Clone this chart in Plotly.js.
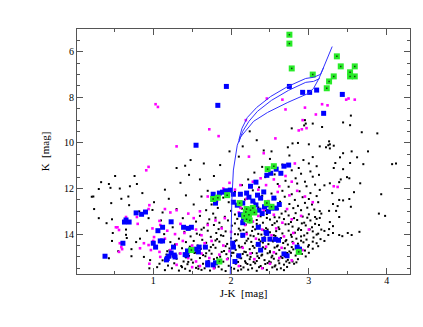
<!DOCTYPE html>
<html>
<head>
<meta charset="utf-8">
<script src="https://cdn.plot.ly/plotly-3.0.1.min.js"></script>
<style>
    html, body { margin: 0; padding: 0; background: white; }
    #chart-cmd { width: 423px; height: 327px; }
</style>
</head>
<body>
<div id="chart-cmd"></div>
<script>
/**
 * Colour-magnitude diagram, K against J-K
 */

// Field stars (small black dots) ----
let blackJK = [
    // sparse left part
    0.76, 0.33, 0.43, 0.45, 0.79, 0.70, 0.57, 0.30, 0.23, 0.68, 0.59, 0.46, 0.69, 0.24, 0.82, 0.30, 0.47, 0.40, 0.94, 0.65,
    0.48, 0.65, 0.66, 0.47, 0.83, 0.78, 0.72, 0.72, 0.43, 0.88, 0.96, 0.95, 1.05, 1.03, 1.08, 0.99, 1.01, 1.30, 1.41, 1.48,
    1.65, 1.86, 0.21, 0.51, 0.86, 0.55, 0.92, 1.12, 1.20, 1.25,
    // dense rows, bottom upward
    1.15, 1.24, 1.33, 1.41, 1.47, 1.55, 1.62, 1.66, 1.73, 1.79, 1.88, 1.93, 2.04, 2.09, 2.16, 2.22, 2.27, 2.33, 2.41, 2.46, 2.53, 2.59, 2.64, 2.72,
    1.08, 1.19, 1.27, 1.36, 1.44, 1.51, 1.58, 1.69, 1.76, 1.83, 1.97, 2.06, 2.12, 2.19, 2.25, 2.31, 2.38, 2.44, 2.51, 2.57, 2.62, 2.68, 2.75, 2.81,
    1.12, 1.30, 1.39, 1.49, 1.60, 1.71, 1.78, 1.90, 1.96, 2.04, 2.13, 2.18, 2.24, 2.29, 2.36, 2.43, 2.49, 2.55, 2.61, 2.66, 2.73, 2.79, 2.86,
    1.17, 1.25, 1.34, 1.46, 1.53, 1.64, 1.75, 1.86, 1.94, 2.01, 2.08, 2.15, 2.21, 2.27, 2.34, 2.40, 2.47, 2.53, 2.58, 2.64, 2.70, 2.77, 2.83, 2.91,
    1.21, 1.37, 1.50, 1.61, 1.72, 1.80, 1.91, 1.98, 2.06, 2.11, 2.17, 2.24, 2.30, 2.37, 2.44, 2.50, 2.56, 2.62, 2.69, 2.75, 2.80, 2.88, 2.95, 3.05,
    1.28, 1.42, 1.57, 1.68, 1.77, 1.85, 1.95, 2.03, 2.10, 2.18, 2.26, 2.33, 2.41, 2.48, 2.54, 2.60, 2.67, 2.73, 2.79, 2.86, 2.93, 3.00, 3.10,
    1.33, 1.48, 1.63, 1.74, 1.82, 1.90, 2.00, 2.07, 2.14, 2.22, 2.29, 2.36, 2.43, 2.50, 2.57, 2.64, 2.71, 2.78, 2.84, 2.90, 2.97, 3.06, 3.15,
    1.40, 1.56, 1.70, 1.81, 1.93, 2.05, 2.12, 2.20, 2.27, 2.35, 2.42, 2.50, 2.58, 2.66, 2.74, 2.82, 2.90, 2.98, 3.05, 3.12, 3.20,
    1.50, 1.65, 1.78, 1.88, 2.01, 2.10, 2.19, 2.28, 2.37, 2.45, 2.53, 2.61, 2.70, 2.79, 2.87, 2.96, 3.04, 3.13,
    1.55, 1.72, 1.85, 1.96, 2.08, 2.24, 2.33, 2.41, 2.50, 2.59, 2.68, 2.77, 2.85, 2.94, 3.02, 3.10,
    1.60, 1.77, 1.92, 2.05, 2.27, 2.38, 2.46, 2.56, 2.65, 2.74, 2.83, 2.92, 3.00, 3.08, 3.16,
    1.68, 1.83, 2.00, 2.14, 2.35, 2.45, 2.60, 2.70, 2.80, 2.90, 2.98, 3.07, 3.14,
    1.75, 1.97, 2.12, 2.30, 2.48, 2.63, 2.75, 2.86, 2.95, 3.04, 3.12,
    1.90, 2.18, 2.40, 2.57, 2.69, 2.82, 2.92, 3.00, 3.10,
    2.05, 2.28, 2.52, 2.66, 2.78, 2.88, 3.02, 3.14,
    2.14, 2.36, 2.60, 2.74, 2.85, 2.97, 3.08,
    2.22, 2.44, 2.70, 2.83, 2.95, 3.05,
    2.30, 2.56, 2.78, 2.90, 3.02, 3.13,
    2.40, 2.66, 2.87, 3.00, 3.10,
    2.10, 2.50, 2.75, 2.93, 3.05,
    // in-between rows of the dense part
    1.37, 1.58, 1.84, 2.00, 2.13, 2.36, 2.56, 2.68,
    1.45, 1.64, 1.86, 2.09, 2.21, 2.33, 2.47, 2.71, 2.84,
    1.42, 1.67, 1.82, 2.00, 2.11, 2.25, 2.39, 2.52, 2.69, 2.96,
    1.55, 1.68, 1.88, 2.03, 2.19, 2.33, 2.50, 2.72, 2.86, 3.00,
    1.47, 1.74, 1.93, 2.14, 2.28, 2.41, 2.59, 2.78, 2.99, 3.12,
    1.52, 1.80, 2.05, 2.20, 2.38, 2.52, 2.70, 2.90, 3.05, 3.20,
    1.60, 1.87, 2.09, 2.25, 2.39, 2.55, 2.77, 2.94, 3.10,
    1.62, 1.84, 2.16, 2.31, 2.47, 2.62, 2.86, 3.01, 3.16,
    1.70, 2.05, 2.33, 2.56, 2.74, 2.91, 3.08,
    1.80, 2.46, 2.62, 2.81, 2.98, 3.14,
    // upper part
    2.24, 2.33, 2.78, 2.94, 2.96, 3.05, 3.17, 3.54, 3.44, 3.68, 3.88, 1.98, 2.15, 2.42, 2.52, 2.73, 2.79, 2.86, 3.00, 3.14,
    3.22, 3.26, 3.27, 3.44, 3.55, 3.62, 3.76, 2.95, 3.53,
    // right part
    3.25, 3.32, 3.27, 3.40, 3.70, 3.53, 3.34, 3.32, 3.44, 3.49, 3.52, 3.41, 3.39, 3.27, 3.20, 3.66, 3.58, 3.30, 3.39, 3.44,
    3.52, 3.31, 3.54, 3.37, 3.26, 3.35, 3.39, 3.31, 3.27, 3.26, 3.31, 3.25, 3.39, 3.43, 3.50, 3.55, 3.65, 3.90, 3.98, 3.93,
    4.07, 4.12,
    // middle left
    1.15, 1.35, 1.42, 1.60, 1.70, 1.52, 1.30, 1.38, 1.10, 1.62, 1.46, 1.78, 1.14, 1.22, 1.18
]
let blackK = [
    11.45, 11.72, 11.80, 11.97, 11.80, 11.90, 12.00, 12.02, 12.35, 12.35, 12.45, 12.64, 12.73, 12.90, 13.00, 13.30, 13.35, 13.52, 13.30, 13.80,
    13.95, 14.03, 14.17, 14.30, 14.20, 14.35, 14.66, 14.97, 15.06, 15.00, 15.14, 15.50, 15.45, 14.57, 14.26, 12.94, 12.60, 11.10, 11.00, 10.75,
    10.90, 10.97, 12.36, 11.45, 12.20, 14.75, 13.85, 13.05, 12.45, 13.70,
    15.58, 15.50, 15.60, 15.52, 15.61, 15.48, 15.57, 15.50, 15.60, 15.47, 15.55, 15.62, 15.52, 15.60, 15.46, 15.56, 15.50, 15.61, 15.49, 15.57, 15.46, 15.55, 15.50, 15.44,
    15.30, 15.38, 15.28, 15.40, 15.32, 15.25, 15.41, 15.29, 15.36, 15.27, 15.39, 15.30, 15.40, 15.26, 15.35, 15.28, 15.40, 15.31, 15.24, 15.37, 15.28, 15.34, 15.26, 15.30,
    15.15, 15.08, 15.20, 15.12, 15.05, 15.18, 15.10, 15.21, 15.07, 15.15, 15.06, 15.19, 15.10, 15.22, 15.05, 15.14, 15.20, 15.08, 15.16, 15.05, 15.13, 15.20, 15.10,
    14.90, 14.98, 14.85, 14.95, 14.83, 14.92, 14.86, 14.99, 14.88, 14.82, 14.96, 14.87, 14.93, 14.83, 14.97, 14.90, 14.84, 14.95, 14.86, 14.99, 14.88, 14.82, 14.94, 14.87,
    14.70, 14.62, 14.76, 14.65, 14.72, 14.60, 14.74, 14.63, 14.69, 14.58, 14.77, 14.66, 14.60, 14.73, 14.64, 14.75, 14.59, 14.70, 14.62, 14.76, 14.67, 14.60, 14.72, 14.64,
    14.45, 14.35, 14.50, 14.38, 14.47, 14.33, 14.43, 14.36, 14.51, 14.40, 14.34, 14.48, 14.37, 14.44, 14.32, 14.50, 14.39, 14.46, 14.34, 14.42, 14.36, 14.48, 14.40,
    14.20, 14.10, 14.25, 14.12, 14.22, 14.08, 14.18, 14.27, 14.11, 14.20, 14.09, 14.24, 14.14, 14.22, 14.08, 14.17, 14.26, 14.12, 14.20, 14.10, 14.24, 14.15, 14.22,
    13.90, 13.98, 13.85, 13.95, 13.88, 14.00, 13.84, 13.93, 13.86, 13.99, 13.83, 13.92, 13.87, 13.97, 13.85, 13.94, 13.82, 13.96, 13.88, 13.98, 13.86,
    13.65, 13.72, 13.60, 13.70, 13.63, 13.76, 13.58, 13.68, 13.62, 13.74, 13.60, 13.70, 13.57, 13.67, 13.75, 13.62, 13.70, 13.60,
    13.45, 13.35, 13.50, 13.40, 13.33, 13.48, 13.38, 13.50, 13.36, 13.44, 13.34, 13.47, 13.38, 13.50, 13.40, 13.33,
    13.20, 13.10, 13.24, 13.14, 13.08, 13.22, 13.12, 13.26, 13.10, 13.18, 13.08, 13.23, 13.13, 13.25, 13.10,
    12.95, 12.85, 12.98, 12.88, 12.83, 12.97, 12.90, 13.00, 12.86, 12.95, 12.84, 12.92, 12.99,
    12.70, 12.60, 12.75, 12.62, 12.72, 12.58, 12.68, 12.76, 12.63, 12.70, 12.60,
    12.40, 12.48, 12.32, 12.45, 12.36, 12.50, 12.38, 12.46, 12.33,
    12.15, 12.08, 12.22, 12.10, 12.25, 12.12, 12.20, 12.06,
    11.85, 11.95, 11.80, 11.92, 11.78, 11.90, 11.83,
    11.60, 11.50, 11.66, 11.55, 11.70, 11.48,
    11.30, 11.38, 11.20, 11.35, 11.25, 11.40,
    11.05, 10.95, 11.10, 10.90, 11.02,
    10.60, 10.70, 10.55, 10.75, 10.62,
    15.45, 15.52, 15.43, 15.47, 15.55, 15.45, 15.42, 15.58,
    15.22, 15.30, 15.17, 15.22, 15.31, 15.18, 15.27, 15.20, 15.24,
    15.02, 14.97, 15.04, 14.95, 15.03, 15.00, 14.94, 15.02, 14.97, 14.98,
    14.80, 14.84, 14.78, 14.82, 14.79, 14.84, 14.80, 14.83, 14.77, 14.82,
    14.55, 14.57, 14.53, 14.56, 14.52, 14.58, 14.54, 14.57, 14.55, 14.53,
    14.30, 14.28, 14.31, 14.29, 14.32, 14.27, 14.31, 14.29, 14.33, 14.30,
    14.03, 14.05, 14.01, 14.06, 14.02, 14.05, 14.03, 14.06, 14.02,
    13.80, 13.78, 13.81, 13.79, 13.80, 13.78, 13.81, 13.79, 13.80,
    13.54, 13.53, 13.55, 13.52, 13.56, 13.53, 13.55,
    13.28, 13.29, 13.27, 13.30, 13.28, 13.29,
    9.49, 9.88, 9.36, 9.23, 9.15, 9.15, 9.30, 8.80, 9.10, 9.53, 9.58, 10.37, 10.15, 10.33, 10.37, 10.19, 10.02, 10.00, 10.06, 10.15,
    10.19, 9.93, 10.06, 10.45, 10.37, 10.63, 10.37, 9.00, 9.22,
    10.10, 10.12, 10.24, 10.63, 10.93, 10.88, 10.88, 11.10, 11.15, 11.50, 11.55, 11.60, 11.72, 11.77, 11.86, 11.77, 12.16, 12.20, 12.50, 12.52,
    12.46, 12.68, 12.80, 12.77, 12.98, 12.98, 13.25, 13.65, 13.47, 13.78, 13.95, 14.04, 14.04, 14.09, 13.95, 14.04, 13.90, 13.10, 13.20, 12.25,
    10.93, 10.90,
    12.05, 11.75, 12.30, 11.60, 12.10, 12.70, 12.90, 13.30, 13.40, 12.35, 11.40, 11.45, 14.00, 14.35, 14.75
]

// Magenta points ----
let magentaJK = [
    1.03, 1.06, 1.30, 1.72, 1.84, 2.46, 2.66, 2.70, 2.95, 3.09, 3.17, 3.24, 3.48, 3.51, 3.59, 2.92, 2.91, 2.87, 2.97, 2.57,
    2.42, 2.23, 2.19, 2.82, 3.32, 3.37,
    0.95, 0.94, 0.77, 0.79, 0.80, 0.65, 0.52, 0.56, 1.08, 1.09, 0.99, 1.01, 1.00, 0.57, 0.59, 0.60, 0.56, 0.83, 0.88, 0.94,
    0.97, 1.08, 1.09, 0.95, 0.94, 0.91, 0.54,
    1.15, 1.22, 1.30, 1.45, 1.52, 1.60, 1.35, 1.18, 1.28, 1.40, 1.55, 1.62, 1.70, 1.80, 1.88, 1.15, 1.30, 1.38, 1.50, 1.66,
    1.75, 1.90, 1.22, 1.35, 1.45, 1.55, 1.62, 1.72, 1.85, 1.95, 1.30, 1.50, 1.60, 1.78, 1.98, 1.92, 2.00, 1.82, 1.90, 1.98,
    1.70,
    2.05, 2.12, 2.20, 2.28, 2.38, 2.45, 2.55, 2.62, 2.70, 2.78, 2.35, 2.60, 2.75, 2.85, 2.10, 2.18, 2.28, 2.35, 2.42, 2.55,
    2.62, 2.72, 2.66, 2.78, 2.90, 2.20, 2.32, 2.40, 2.52, 2.58, 2.68, 2.80, 2.15, 2.25, 2.45, 2.55, 2.65, 2.80, 2.92, 2.30,
    2.50, 2.62, 2.78, 2.10, 2.40, 3.00, 3.05, 2.95, 2.12, 2.48
]
let magentaK = [
    8.30, 8.42, 10.15, 9.40, 9.70, 8.05, 8.10, 8.53, 8.45, 8.75, 8.30, 8.35, 8.10, 8.05, 8.10, 9.00, 9.40, 9.45, 9.35, 9.80,
    10.45, 10.60, 9.00, 10.90, 11.90, 11.93,
    12.73, 12.90, 13.07, 13.25, 13.55, 13.25, 13.70, 13.82, 13.42, 13.60, 13.75, 14.13, 14.30, 14.40, 14.57, 14.66, 14.78, 14.62, 14.40, 14.48,
    14.70, 14.78, 15.00, 15.30, 11.05, 11.20, 13.70,
    12.90, 13.05, 12.95, 13.10, 13.30, 13.00, 13.55, 13.85, 14.00, 13.95, 13.80, 14.05, 13.60, 13.40, 13.75, 14.20, 14.45, 14.30, 14.50, 14.40,
    14.30, 14.50, 14.70, 14.85, 15.05, 15.20, 14.85, 15.05, 14.90, 15.10, 15.35, 15.45, 15.40, 15.50, 14.75, 13.30, 13.90, 12.55, 12.00, 11.75,
    12.35,
    12.05, 11.85, 12.45, 11.70, 11.55, 11.85, 11.60, 11.90, 11.45, 11.70, 12.05, 12.15, 12.30, 12.10, 13.05, 13.60, 13.45, 13.20, 12.95, 13.15,
    12.70, 12.90, 13.50, 13.35, 13.20, 14.00, 14.20, 13.80, 14.05, 13.75, 14.10, 13.95, 14.60, 14.85, 14.55, 14.80, 14.60, 14.40, 14.70, 15.10,
    15.30, 15.05, 15.15, 15.40, 15.50, 13.80, 12.60, 12.35, 12.85, 12.55
]

// Blue squares ----
let blueJK = [
    1.94, 1.83, 1.55, 2.75, 2.92, 3.01, 3.10, 3.43, 3.19,
    0.65, 0.63, 0.69, 0.78, 0.85, 0.90, 0.38, 0.61, 1.06, 1.12, 1.23, 1.00, 1.03, 1.09, 1.18, 1.20, 1.23, 1.28, 1.17, 1.27,
    1.26, 1.12,
    1.39, 1.45, 1.49, 1.44, 1.48, 1.58, 1.43, 1.41, 1.55, 1.59, 1.67, 1.70, 1.77, 1.80, 1.70,
    1.77, 1.85, 1.89, 1.93, 1.99, 2.03, 1.80, 2.12, 2.03, 2.15, 2.08, 1.77,
    2.15, 2.02, 2.03, 2.16, 2.25, 2.32, 2.64, 2.58, 2.68, 2.74, 2.46, 2.51, 2.34, 2.38, 2.55, 2.43, 2.47, 2.52, 2.58, 2.23,
    2.32, 2.20, 2.35, 2.45, 2.46, 2.42, 2.35, 2.38, 2.57, 2.61, 2.68, 2.72, 2.85, 2.88, 2.15, 2.28, 2.36, 2.40, 2.28, 2.12,
    2.48, 2.62, 2.20, 2.42, 2.50, 2.05, 2.10
]
let blueK = [
    7.52, 8.35, 10.10, 7.52, 7.78, 7.78, 7.68, 7.87, 8.70,
    13.38, 13.47, 13.47, 13.07, 13.13, 13.03, 14.97, 14.40, 13.85, 13.70, 13.46, 14.40, 14.57, 14.30, 15.07, 14.97, 14.83, 15.00, 15.13, 14.92,
    14.57, 14.30,
    13.70, 13.75, 13.70, 14.74, 14.70, 14.78, 14.92, 14.90, 14.66, 14.57, 14.57, 15.35, 15.35, 15.26, 15.26,
    12.25, 12.20, 12.16, 12.10, 12.07, 12.25, 12.64, 12.25, 12.60, 12.64, 12.73, 12.42,
    13.50, 14.40, 14.57, 13.30, 11.90, 11.72, 11.33, 11.15, 11.02, 10.97, 11.42, 11.33, 12.29, 12.42, 12.42, 12.80, 12.72, 12.86, 12.86, 12.38,
    12.72, 13.30, 13.70, 13.93, 13.97, 14.23, 14.45, 14.70, 14.23, 14.27, 14.87, 14.95, 14.57, 14.66, 14.05, 12.55, 12.95, 13.10, 13.05, 13.15,
    13.00, 12.70, 12.20, 12.15, 14.22, 15.20, 14.95
]

// Green squares ----
let greenJK = [
    2.75, 2.75, 2.78, 3.05, 3.36, 3.41, 3.59, 3.53, 3.53, 3.59, 3.32, 3.26, 3.23,
    1.77, 1.83, 1.95, 2.11, 2.47, 2.55, 2.19, 2.17, 2.20, 2.23, 2.25, 2.28, 2.20, 2.24, 2.30, 2.52, 2.46, 2.87, 1.49, 1.85
]
let greenK = [
    5.25, 5.64, 6.73, 7.00, 6.20, 6.64, 6.64, 6.90, 7.08, 7.08, 7.08, 7.30, 7.60,
    12.46, 12.40, 12.29, 12.64, 11.15, 11.02, 13.03, 13.20, 13.35, 13.15, 12.95, 12.85, 12.90, 13.40, 13.05, 12.80, 12.64, 14.78, 14.70, 15.20
]

// Isochrone tracks ----
let track1JK = [1.99, 2.00, 2.01, 2.03, 2.06, 2.08, 2.12, 2.19, 2.29, 2.47, 2.73, 2.99, 3.06, 3.13, 3.19, 3.25, 3.30]
let track1K = [15.75, 14.26, 12.51, 11.19, 10.54, 10.10, 9.75, 9.44, 9.05, 8.66, 8.22, 7.83, 7.61, 7.17, 6.69, 6.25, 5.77]
let track2JK = [2.10, 2.14, 2.21, 2.33, 2.51, 2.73, 2.96, 3.06, 3.15, 3.19]
let track2K = [9.88, 9.36, 8.88, 8.44, 7.96, 7.52, 7.17, 7.12, 6.99, 6.69]
let track3JK = [2.10, 2.15, 2.23, 2.34, 2.52, 2.74, 2.96, 3.06, 3.14]
let track3K = [9.97, 9.49, 9.05, 8.61, 8.13, 7.69, 7.34, 7.30, 7.17]

let fontFamily = '"Liberation Serif", "DejaVu Serif", serif'
let trackColor = 'rgb(50,50,255)'

let traces = [
    {
        x: blackJK, y: blackK, type: 'scatter', mode: 'markers',
        marker: { symbol: 'square', size: 2, color: 'black', line: { width: 0 } }
    },
    {
        x: magentaJK, y: magentaK, type: 'scatter', mode: 'markers',
        marker: { symbol: 'square', size: 2.6, color: 'rgb(255,0,255)', line: { width: 0 } }
    },
    {
        x: blueJK, y: blueK, type: 'scatter', mode: 'markers',
        marker: { symbol: 'square', size: 5, color: 'rgb(0,0,255)', line: { width: 0 } }
    },
    {
        x: greenJK, y: greenK, type: 'scatter', mode: 'markers',
        marker: { symbol: 'square', size: 6, color: 'rgb(40,235,40)', line: { width: 0 } }
    },
    {
        // dark centre of the green squares
        x: greenJK, y: greenK, type: 'scatter', mode: 'markers',
        marker: { symbol: 'square', size: 1.5, color: 'rgb(20,60,20)', line: { width: 0 } }
    },
    {
        x: track1JK, y: track1K, type: 'scatter', mode: 'lines',
        line: { color: trackColor, width: 1 }
    },
    {
        x: track2JK, y: track2K, type: 'scatter', mode: 'lines',
        line: { color: trackColor, width: 1 }
    },
    {
        x: track3JK, y: track3K, type: 'scatter', mode: 'lines',
        line: { color: trackColor, width: 1 }
    }
]

let axisCommon = {
    showgrid: false,
    zeroline: false,
    showline: true,
    linecolor: '#555',
    linewidth: 1,
    mirror: 'ticks',
    ticks: 'inside',
    ticklen: 6,
    tickcolor: '#555',
    tickfont: { family: fontFamily, size: 10, color: 'black' },
    automargin: false
}

let layout = {
    width: 423,
    height: 327,
    margin: { l: 77, r: 13, t: 29, b: 53 },
    paper_bgcolor: 'white',
    plot_bgcolor: 'white',
    showlegend: false,
    font: { family: fontFamily, color: 'black' },
    xaxis: {
        ...axisCommon,
        range: [0.02, 4.3],
        dtick: 1,
        tick0: 0,
        ticklabelstandoff: -3,
        minor: { dtick: 0.5, ticks: 'inside', ticklen: 3, tickcolor: '#555' },
        title: { text: 'J-K  [mag]', font: { family: fontFamily, size: 11 }, standoff: 4 }
    },
    yaxis: {
        ...axisCommon,
        range: [15.75, 5],
        dtick: 2,
        tick0: 0,
        minor: { dtick: 0.5, ticks: 'inside', ticklen: 3, tickcolor: '#555' },
        title: { text: 'K  [mag]', font: { family: fontFamily, size: 11 }, standoff: 12 }
    }
}

Plotly.newPlot('chart-cmd', traces, layout, { displayModeBar: false, staticPlot: true })
</script>
</body>
</html>
